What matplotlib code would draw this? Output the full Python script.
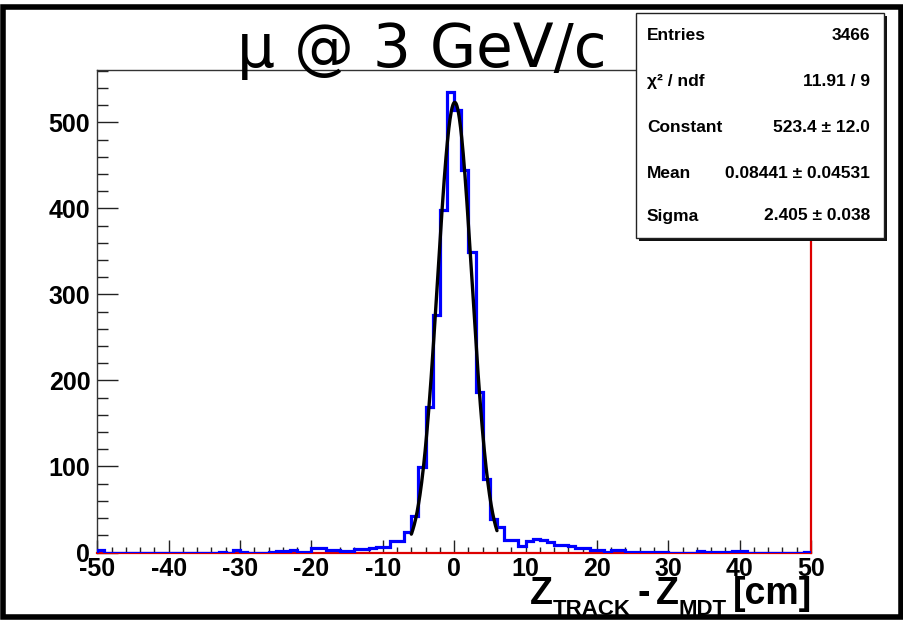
import numpy as np
import matplotlib
matplotlib.use("Agg")
import matplotlib.pyplot as plt
from matplotlib.patches import Rectangle
from matplotlib.ticker import MultipleLocator
import matplotlib.transforms as mtransforms

# ---------------- data ----------------
x_min, x_max, n_bins = -50, 50, 100
counts = [
    3, 0, 0, 0, 0, 0, 0, 0, 0, 0,            # -50 .. -41
    0, 0, 0, 0, 0, 0, 0, 1, 0, 3,            # -40 .. -31
    1, 0, 0, 0, 1, 2, 2, 3, 1, 1,            # -30 .. -21
    5, 5, 3, 3, 2, 2, 4, 4, 5, 6,            # -20 .. -11
    6, 13, 13, 24, 42, 99, 169, 276, 398, 535,   # -10 .. -1
    514, 445, 349, 187, 86, 39, 30, 15, 15, 8,   # 0 .. 9
    13, 16, 15, 12, 9, 9, 7, 5, 5, 3,        # 10 .. 19
    3, 1, 3, 3, 1, 1, 1, 1, 1, 1,            # 20 .. 29
    0, 0, 0, 0, 2, 1, 1, 1, 1, 2,            # 30 .. 39
    2, 0, 0, 0, 0, 0, 0, 0, 0, 1,            # 40 .. 49
]
fit_const, fit_mean, fit_sigma = 523.4, 0.08441, 2.405
fit_range = (-6.0, 6.0)

stat_names = ["Entries", "χ² / ndf", "Constant", "Mean", "Sigma"]
stat_values = ["3466", "11.91 / 9", "523.4 ± 12.0", "0.08441 ± 0.04531", "2.405 ± 0.038"]

title = "μ @ 3 GeV/c"
y_ticks = [0, 100, 200, 300, 400, 500]
x_ticks = [-50, -40, -30, -20, -10, 0, 10, 20, 30, 40, 50]

# ---------------- figure ----------------
W, H = 904, 620
fig = plt.figure(figsize=(W / 100, H / 100), dpi=100)
fig.patch.set_facecolor("white")

def fx(px):
    return px / W

def fy(py):
    return 1 - py / H

ax = fig.add_axes([fx(97.3), fy(552.5), fx(811) - fx(97.3), fy(70) - fy(552.5)])

edges = np.linspace(x_min, x_max, n_bins + 1)
ax.stairs(counts, edges, color="#0000ff", lw=2.3, zorder=3, baseline=0)

xf = np.linspace(fit_range[0], fit_range[1], 300)
yf = fit_const * np.exp(-0.5 * ((xf - fit_mean) / fit_sigma) ** 2)
ax.plot(xf, yf, color="black", lw=2.4, zorder=4, solid_capstyle="round")

ax.set_xlim(x_min, x_max)
ax.set_ylim(0, 561)

ax.xaxis.set_major_locator(MultipleLocator(10))
ax.xaxis.set_minor_locator(MultipleLocator(2))
ax.yaxis.set_major_locator(MultipleLocator(100))
ax.yaxis.set_minor_locator(MultipleLocator(20))
ax.set_xticks(x_ticks)
ax.set_yticks(y_ticks)

tickfont = dict(family="Liberation Sans", weight="bold", size=18)
ax.set_xticklabels([str(v) for v in x_ticks], fontdict=tickfont)
ax.set_yticklabels([str(v) for v in y_ticks], fontdict=tickfont)

ax.tick_params(axis="x", which="major", direction="in", length=9.5, width=1, pad=3, color="#222222")
ax.tick_params(axis="x", which="minor", direction="in", length=4.5, width=1, color="#222222")
ax.tick_params(axis="y", which="major", direction="in", length=15, width=1, pad=5, color="#222222")
ax.tick_params(axis="y", which="minor", direction="in", length=8, width=1, color="#222222")

for s in ["left", "top"]:
    ax.spines[s].set_color("#333333")
    ax.spines[s].set_linewidth(1)
for s in ["bottom", "right"]:
    ax.spines[s].set_color("#dd0000")
    ax.spines[s].set_linewidth(1.6)

# Title
fig.text(fx(422), fy(67), title, ha="center", va="baseline",
         fontsize=43, family="DejaVu Sans", color="black")

# Stats box with shadow
bx0, by0, bx1, by1 = 636, 12.7, 884, 238
shadow = Rectangle((fx(bx0 + 3), fy(by1 + 3)), fx(bx1) - fx(bx0), fy(by0) - fy(by1),
                   transform=fig.transFigure, facecolor="#111111", edgecolor="none", zorder=5)
box = Rectangle((fx(bx0), fy(by1)), fx(bx1) - fx(bx0), fy(by0) - fy(by1),
                transform=fig.transFigure, facecolor="white", edgecolor="#222222", lw=1, zorder=6)
fig.add_artist(shadow)
fig.add_artist(box)
row_y = [36, 81.7, 127.7, 173, 216]
for name, val, ry in zip(stat_names, stat_values, row_y):
    fig.text(fx(647), fy(ry), name, ha="left", va="center", fontsize=12.5,
             family="Liberation Sans", weight="bold", zorder=7)
    fig.text(fx(870), fy(ry), val, ha="right", va="center", fontsize=12.5,
             family="Liberation Sans", weight="bold", zorder=7)

# X axis label built from pieces (big Z, small subscripts)
renderer = fig.canvas.get_renderer()
ident = mtransforms.IdentityTransform()
pieces = [("Z", 27, 620 - 604, 0), ("TRACK", 16, 620 - 615, 0),
          ("-", 27, 620 - 604, 6), ("Z", 27, 620 - 604, 6),
          ("MDT", 16, 620 - 615, 0), ("[cm]", 27, 620 - 604, 6)]
texts = []
xcur = 531
for s, fs, yb, gap in pieces:
    xcur += gap
    t = fig.text(xcur, yb, s, fontsize=fs, family="Liberation Sans", weight="bold",
                 ha="left", va="baseline", transform=ident, zorder=7)
    bb = t.get_window_extent(renderer)
    xcur = bb.x1
    texts.append(t)
shift = 812 - xcur
for t in texts:
    t.set_x(t.get_position()[0] + shift)

# Outer canvas border
border = Rectangle((fx(3), fy(617)), fx(901) - fx(3), fy(7) - fy(617),
                   transform=fig.transFigure, facecolor="none", edgecolor="black",
                   lw=4, zorder=10)
fig.add_artist(border)

fig.savefig("out.png", dpi=100)
